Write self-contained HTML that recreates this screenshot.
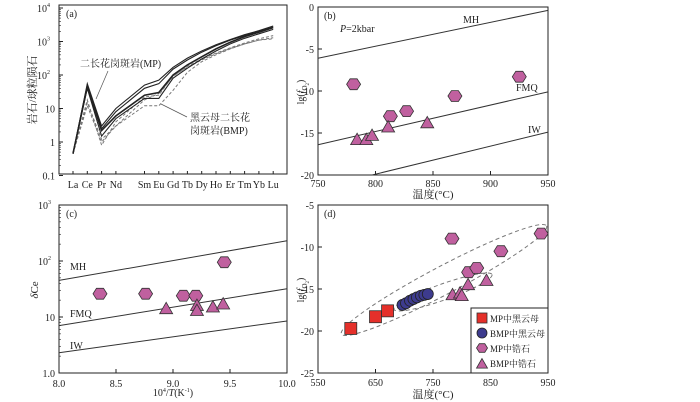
<!DOCTYPE html>
<html><head><meta charset="utf-8"><style>
body{margin:0;background:#fff}
svg{display:block;font-family:"Liberation Serif","Noto Serif CJK SC",serif}
</style></head><body>
<svg id="c" width="700" height="402" viewBox="0 0 700 402" xmlns="http://www.w3.org/2000/svg"></svg>
<script>
// ---- Panel a data (REE patterns) ----
const reeLabels=["La","Ce","Pr","Nd","Sm","Eu","Gd","Tb","Dy","Ho","Er","Tm","Yb","Lu"];
const reeIdx=[0,1,2,3,5,6,7,8,9,10,11,12,13,14];
const mp1=[0.45,55,3,10,50,70,170,320,520,800,1150,1600,2100,2900];
const mp2=[0.45,50,2.5,8,40,55,150,280,480,750,1100,1500,2000,2700];
const mp3=[0.45,45,2.2,6,25,30,100,200,350,600,950,1400,1900,2600];
const mp4=[0.45,40,1.5,5,20,20,80,160,300,520,850,1250,1700,2300];
const bmp1=[0.45,15,1.2,3,18,28,90,180,300,450,650,900,1200,1500];
const bmp2=[0.45,12,1,3,12,12,35,120,250,400,600,850,1100,1300];
const bmp3=[0.45,18,0.8,4,22,25,95,170,280,430,620,850,1100,1200];
const aTicks=["0.1","1","10"];
// ---- Panel b data ----
const bHexT=[781,813,827,869,925];
const bHexF=[-9.2,-13,-12.4,-10.6,-8.3];
const bTriT=[784,792,797,811,845];
const bTriF=[-15.8,-15.8,-15.3,-14.3,-13.8];
const bMH=[[750,-6.1],[950,-0.4]];
const bFMQ=[[750,-16.4],[950,-10.1]];
const bIW=[[797,-20],[950,-14.9]];
const bXTicks=[750,800,850,900,950];
const bYTicks=[0,-5,-10,-15,-20];
// ---- Panel c data ----
const cHexX=[8.36,8.76,9.09,9.2,9.45];
const cHexY=[26,26,24,24,95];
const cTriX=[8.94,9.21,9.21,9.35,9.44];
const cTriY=[14,16,13,15,17];
const cMH=[[8,45],[10,230]];
const cFMQ=[[8,7],[10,32]];
const cIW=[[8,2.3],[10,8.5]];
const cXTicks=[8.0,8.5,9.0,9.5,10.0];
// ---- Panel d data ----
const dSqT=[607,650,671];
const dSqF=[-19.7,-18.3,-17.6];
const dCirT=[697,703,710,716,722,729,735,741];
const dCirF=[-16.9,-16.7,-16.4,-16.2,-16,-15.8,-15.7,-15.6];
const dHexT=[783,812,826,868,938];
const dHexF=[-9,-13,-12.5,-10.5,-8.4];
const dTriT=[784,797,800,811,843];
const dTriF=[-15.7,-15.5,-15.8,-14.5,-14];
const dXTicks=[550,650,750,850,950];
const dYTicks=[-5,-10,-15,-20,-25];

const svg=document.getElementById('c');
const NS='http://www.w3.org/2000/svg';
function mk(tag,attrs,parent){const e=document.createElementNS(NS,tag);for(const k in attrs)e.setAttribute(k,attrs[k]);(parent||svg).appendChild(e);return e;}
function txt(x,y,s,anchor,size,parent){const e=mk('text',{x:x,y:y,'text-anchor':anchor||'middle','font-size':size||10,fill:'#222'},parent);e.textContent=s;return e;}
const PINK='#c0609f', RED='#e5302a', BLUE='#3d3b8e';
function hex(x,y,r,g){const p=[];for(let i=0;i<6;i++){const a=Math.PI/3*i;p.push((x+r*Math.cos(a)).toFixed(1)+','+(y+r*0.9*Math.sin(a)).toFixed(1));}return mk('polygon',{points:p.join(' '),fill:PINK,stroke:'#333','stroke-width':0.8},g);}
function tri(x,y,r,g){return mk('polygon',{points:`${x},${y-r} ${x-r},${y+r*0.75} ${x+r},${y+r*0.75}`,fill:PINK,stroke:'#333','stroke-width':0.8},g);}

// ===== Panel a =====
const ga=mk('g',{});  
const aX=i=>73+i*14.3, aY=v=>142-Math.log10(v)*33.5;
mk('rect',{x:59,y:5,width:228,height:169,fill:'none',stroke:'#222','stroke-width':1},ga);
[-1,0,1,2,3,4].forEach(p=>{const y=aY(Math.pow(10,p));mk('line',{x1:59,y1:y,x2:63,y2:y,stroke:'#222'},ga);
 for(let k=2;k<10&&p<4;k++){const yy=aY(k*Math.pow(10,p));mk('line',{x1:59,y1:yy,x2:61,y2:yy,stroke:'#222','stroke-width':0.6},ga);}});
aTicks.forEach((s,i)=>{const t=txt(55,aY(Math.pow(10,i-1))+4,s,'end',10,ga);});
[[2,'10'],[3,'10'],[4,'10']].forEach(([p,s])=>{const t=txt(50,aY(Math.pow(10,p))+4,s,'end',10,ga);const sp=mk('tspan',{dy:-5,'font-size':6},t);sp.textContent=p;});
reeLabels.forEach((s,i)=>{const x=aX(reeIdx[i]);mk('line',{x1:x,y1:174,x2:x,y2:171,stroke:'#222'},ga);const t=txt(x,188,s,'middle',10,ga);});
function reeLine(arr,dash,col,w,name){const d=arr.map((v,i)=>(i?'L':'M')+aX(reeIdx[i]).toFixed(1)+','+aY(v).toFixed(1)).join(' ');const p=mk('path',{d:d,fill:'none',stroke:col,'stroke-width':w,'stroke-dasharray':dash},ga);}
reeLine(bmp1,'3,2','#777',1,'bmp-line');reeLine(bmp2,'3,2','#777',1,'bmp-line');reeLine(bmp3,'3,2','#777',1,'bmp-line');
reeLine(mp1,'','#222',1.1,'mp-line');reeLine(mp2,'','#222',1.1,'mp-line');reeLine(mp3,'','#222',1.6,'mp-line');reeLine(mp4,'','#222',1.1,'mp-line');
txt(66,17,'(a)','start',10,ga);
const ya=txt(0,0,'岩石/球粒陨石','middle',11,ga);ya.setAttribute('transform','translate(36,90) rotate(-90)');
txt(80,67,'二长花岗斑岩(MP)','start',10,ga);
mk('line',{x1:108,y1:71,x2:96,y2:99,stroke:'#555','stroke-width':0.7},ga);
txt(190,121,'黑云母二长花','start',10,ga);txt(190,134,'岗斑岩(BMP)','start',10,ga);
mk('line',{x1:187,y1:117,x2:161,y2:104,stroke:'#555','stroke-width':0.7},ga);

// ===== Panel b =====
const gb=mk('g',{});  
const bX=t=>318+(t-750)*1.15, bY=f=>7+(0-f)*8.4;
mk('rect',{x:318,y:7,width:230,height:168,fill:'none',stroke:'#222'},gb);
bXTicks.forEach(t=>{mk('line',{x1:bX(t),y1:175,x2:bX(t),y2:171,stroke:'#222'},gb);txt(bX(t),187,t,'middle',10,gb);});
bYTicks.forEach(f=>{mk('line',{x1:318,y1:bY(f),x2:322,y2:bY(f),stroke:'#222'},gb);txt(314,bY(f)+4,f,'end',10,gb);});
[bMH,bFMQ,bIW].forEach((l,i)=>{const e=mk('line',{x1:bX(l[0][0]),y1:bY(l[0][1]),x2:bX(l[1][0]),y2:bY(l[1][1]),stroke:'#333'},gb);});
txt(463,23,'MH','start',10,gb);txt(516,91,'FMQ','start',10,gb);txt(528,133,'IW','start',10,gb);
txt(324,19,'(b)','start',10,gb);
const pk=txt(340,32,'','start',10,gb);pk.innerHTML='<tspan font-style="italic">P</tspan>=2kbar';
bHexT.forEach((t,i)=>{const e=hex(bX(t),bY(bHexF[i]),7,gb);});
bTriT.forEach((t,i)=>{const e=tri(bX(t),bY(bTriF[i]),6.5,gb);});
const ybT=txt(0,0,'','middle',10,gb);ybT.innerHTML='lg(<tspan font-style="italic">f</tspan><tspan font-size="7" dy="3">O</tspan><tspan font-size="5" dy="2">2</tspan><tspan dy="-5">)</tspan>';ybT.setAttribute('transform','translate(304,92) rotate(-90)');
txt(433,198,'温度(°C)','middle',11,gb);

// ===== Panel c =====
const gc=mk('g',{});  
const cX=v=>59+(v-8)*114, cY=v=>373-Math.log10(v)*56;
mk('rect',{x:59,y:205,width:228,height:168,fill:'none',stroke:'#222'},gc);
cXTicks.forEach(v=>{mk('line',{x1:cX(v),y1:373,x2:cX(v),y2:369,stroke:'#222'},gc);txt(cX(v),387,v.toFixed(1),'middle',10,gc);});
[0,1,2,3].forEach(p=>{const y=cY(Math.pow(10,p));mk('line',{x1:59,y1:y,x2:63,y2:y,stroke:'#222'},gc);
 for(let k=2;k<10&&p<3;k++){const yy=cY(k*Math.pow(10,p));mk('line',{x1:59,y1:yy,x2:61,y2:yy,stroke:'#222','stroke-width':0.6},gc);}});
txt(55,cY(1)+4,'1.0','end',10,gc);txt(55,cY(10)+4,'10','end',10,gc);
[2,3].forEach(p=>{const t=txt(51,cY(Math.pow(10,p))+4,'10','end',10,gc);const sp=mk('tspan',{dy:-5,'font-size':6},t);sp.textContent=p;});
[cMH,cFMQ,cIW].forEach((l,i)=>{const e=mk('line',{x1:cX(l[0][0]),y1:cY(l[0][1]),x2:cX(l[1][0]),y2:cY(l[1][1]),stroke:'#333'},gc);});
txt(70,270,'MH','start',10,gc);txt(70,317,'FMQ','start',10,gc);txt(70,349,'IW','start',10,gc);
txt(66,217,'(c)','start',10,gc);
cHexX.forEach((v,i)=>{const e=hex(cX(v),cY(cHexY[i]),7,gc);});
cTriX.forEach((v,i)=>{const e=tri(cX(v),cY(cTriY[i]),6.5,gc);});
const ycT=txt(0,0,'','middle',11,gc);ycT.innerHTML='<tspan font-style="italic">δ</tspan>Ce';ycT.setAttribute('transform','translate(38,290) rotate(-90)');
const xcT=txt(173,396,'','middle',10,gc);xcT.innerHTML='10<tspan font-size="6" dy="-4">4</tspan><tspan dy="4">/</tspan><tspan font-style="italic">T</tspan>(K<tspan font-size="6" dy="-4">-1</tspan><tspan dy="4">)</tspan>';

// ===== Panel d =====
const gd=mk('g',{});  
const dX=t=>318+(t-550)*0.575, dY=f=>373-(f+25)*8.4;
mk('rect',{x:318,y:205,width:230,height:168,fill:'none',stroke:'#222'},gd);
dXTicks.forEach(t=>{mk('line',{x1:dX(t),y1:373,x2:dX(t),y2:369,stroke:'#222'},gd);txt(dX(t),386,t,'middle',10,gd);});
dYTicks.forEach(f=>{mk('line',{x1:318,y1:dY(f),x2:322,y2:dY(f),stroke:'#222'},gd);txt(314,dY(f)+4,f,'end',10,gd);});
mk('ellipse',{cx:444,cy:280,rx:116,ry:14,transform:'rotate(-27.8 444 280)',fill:'none',stroke:'#777','stroke-dasharray':'4,3'},gd);
mk('ellipse',{cx:443,cy:292,rx:52,ry:8,transform:'rotate(-19.6 443 292)',fill:'none',stroke:'#777','stroke-dasharray':'4,3'},gd);
txt(324,217,'(d)','start',10,gd);
dSqT.forEach((t,i)=>{const e=mk('rect',{x:dX(t)-6,y:dY(dSqF[i])-6,width:12,height:12,fill:RED,stroke:'#333','stroke-width':0.8},gd);});
dCirT.forEach((t,i)=>{const e=mk('circle',{cx:dX(t),cy:dY(dCirF[i]),r:5.5,fill:BLUE,stroke:'#222','stroke-width':0.8},gd);});
dHexT.forEach((t,i)=>{const e=hex(dX(t),dY(dHexF[i]),7,gd);});
dTriT.forEach((t,i)=>{const e=tri(dX(t),dY(dTriF[i]),6.5,gd);});
const lg=mk('g',{},gd);
mk('rect',{x:471,y:308,width:77,height:65,fill:'#fff',stroke:'#222'},lg);
mk('rect',{x:477,y:313,width:10,height:10,fill:RED,stroke:'#333','stroke-width':0.8},lg);
mk('circle',{cx:482,cy:333,r:5,fill:BLUE,stroke:'#222','stroke-width':0.8},lg);
hex(482,348,5.5,lg);tri(482,364,5.5,lg);
[['MP中黑云母',322],['BMP中黑云母',337],['MP中锆石',352],['BMP中锆石',367]].forEach(([s,y])=>{const t=txt(490,y,s,'start',9,lg);});
const ydT=txt(0,0,'','middle',10,gd);ydT.innerHTML='lg(<tspan font-style="italic">f</tspan><tspan font-size="7" dy="3">O</tspan><tspan font-size="5" dy="2">2</tspan><tspan dy="-5">)</tspan>';ydT.setAttribute('transform','translate(304,290) rotate(-90)');
txt(433,398,'温度(°C)','middle',11,gd);
</script>
</body></html>
